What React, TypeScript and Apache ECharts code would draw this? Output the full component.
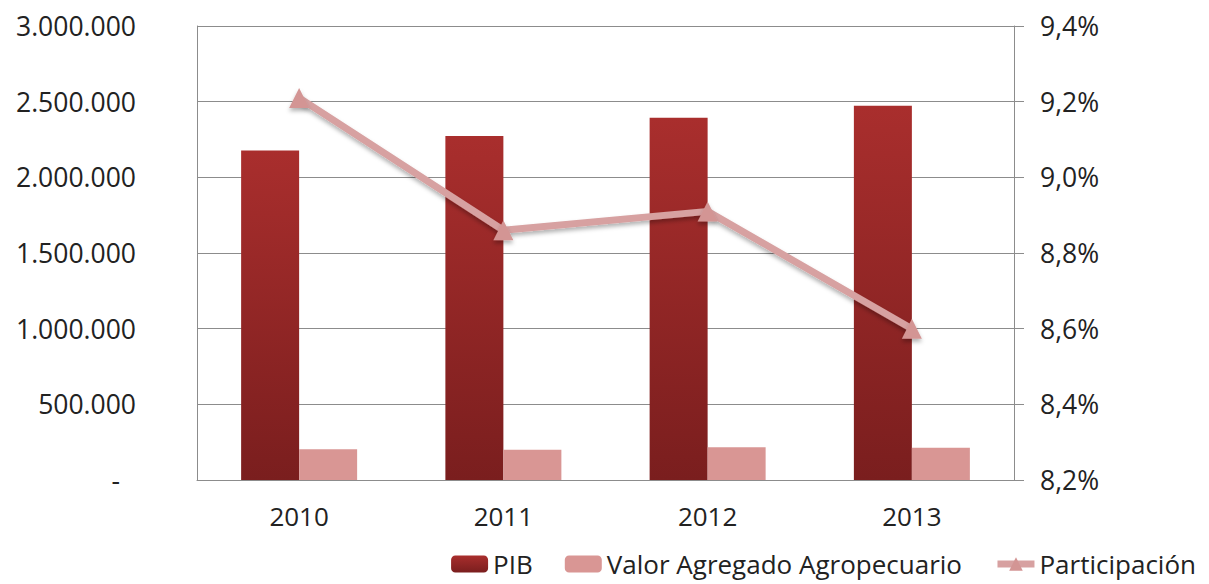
import React, { useEffect, useRef } from "react";
import * as echarts from "echarts";

const categories = ["2010", "2011", "2012", "2013"];
const pib = [2178000, 2273000, 2394000, 2473000];
const valorAgregado = [203000, 200000, 216000, 213000];
const participacion = [9.21, 8.86, 8.91, 8.6];

const FONT = "'Open Sans', sans-serif";

export default function App() {
  const ref = useRef<HTMLDivElement>(null);
  useEffect(() => {
    document.body.style.margin = "0";
    const chart = echarts.init(ref.current!, null, { renderer: "svg" });
    const pibGradient = new echarts.graphic.LinearGradient(0, 0, 0, 1, [
      { offset: 0, color: "#A92E2D" },
      { offset: 1, color: "#7A1E1E" },
    ]);
    const fmtThousands = (v: number) =>
      Math.round(v)
        .toString()
        .replace(/\B(?=(\d{3})+(?!\d))/g, ".");
    chart.setOption({
      animation: false,
      backgroundColor: "#ffffff",
      textStyle: { fontFamily: FONT },
      grid: { left: 197, right: 195, top: 26, bottom: 104, containLabel: false },
      legend: {
        bottom: 2,
        right: 8,
        itemWidth: 37,
        itemHeight: 17,
        itemGap: 32,
        textStyle: { fontFamily: FONT, fontSize: 26, color: "#222" },
        data: [
          { name: "PIB" },
          { name: "Valor Agregado Agropecuario" },
          { name: "Participación", lineStyle: { width: 7 } },
        ],
      },
      xAxis: {
        type: "category",
        data: categories,
        axisLine: { show: true, lineStyle: { color: "#8c8c8c", width: 1 } },
        axisTick: { show: false },
        axisLabel: { fontFamily: FONT, fontSize: 26, color: "#222", margin: 23 },
      },
      yAxis: [
        {
          type: "value",
          min: 0,
          max: 3000000,
          interval: 500000,
          axisLine: { show: true, lineStyle: { color: "#8c8c8c", width: 1 } },
          axisTick: { show: false },
          splitLine: { show: true, lineStyle: { color: "#8c8c8c", width: 1 } },
          axisLabel: {
            fontFamily: FONT,
            fontSize: 26.5,
            color: "#222",
            margin: 61,
            formatter: (v: number) => (v === 0 ? "{z|-}" : fmtThousands(v)),
            rich: { z: { fontFamily: FONT, fontSize: 26.5, color: "#222", padding: [0, 16, 0, 0] } },
          },
        },
        {
          type: "value",
          min: 82,
          max: 94,
          interval: 2,
          position: "right",
          axisLine: { show: true, lineStyle: { color: "#8c8c8c", width: 1 } },
          axisTick: { show: true, length: 10, lineStyle: { color: "#8c8c8c" } },
          splitLine: { show: false },
          axisLabel: {
            fontFamily: FONT,
            fontSize: 26.5,
            color: "#222",
            margin: 26,
            formatter: (v: number) => (v / 10).toFixed(1).replace(".", ",") + "%",
          },
        },
      ],
      series: [
        {
          name: "PIB",
          type: "bar",
          data: pib,
          barWidth: 58,
          barGap: "0%",
          itemStyle: { color: pibGradient },
        },
        {
          name: "Valor Agregado Agropecuario",
          type: "bar",
          data: valorAgregado,
          barWidth: 58,
          barGap: "0%",
          itemStyle: { color: "#D99694" },
        },
        {
          name: "Participación",
          type: "line",
          yAxisIndex: 1,
          data: participacion.map((p) => p * 10),
          symbol: "triangle",
          symbolSize: 20,
          lineStyle: {
            color: "#D7A1A1",
            width: 7,
            shadowColor: "rgba(0,0,0,0.3)",
            shadowBlur: 4,
            shadowOffsetY: 3,
          },
          itemStyle: {
            color: "#D39594",
            shadowColor: "rgba(0,0,0,0.3)",
            shadowBlur: 4,
            shadowOffsetY: 3,
          },
        },
      ],
    });
    return () => chart.dispose();
  }, []);
  return <div ref={ref} style={{ width: 1209, height: 584 }} />;
}
